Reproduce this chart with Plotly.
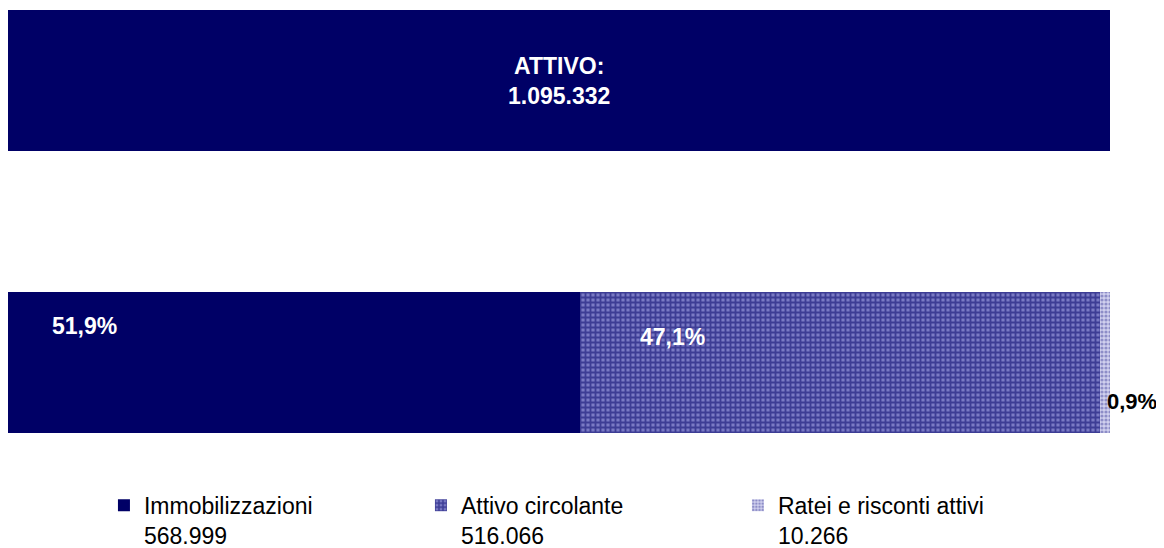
import plotly.graph_objects as go

categories = ["Immobilizzazioni", "Attivo circolante", "Ratei e risconti attivi"]
values = [568999, 516066, 10266]
value_labels = ["568.999", "516.066", "10.266"]
pct_labels = ["51,9%", "47,1%", "0,9%"]
total = 1095332
total_label = "ATTIVO:<br>1.095.332"

navy = "#000066"
font = "Liberation Sans, Arial, sans-serif"

fig = go.Figure()

# top total bar
fig.add_trace(go.Bar(x=[total], y=[1], orientation="h", width=0.5,
                     marker=dict(color=navy, line=dict(width=0)),
                     showlegend=False, hoverinfo="skip"))

patterns = [
    dict(shape=""),
    dict(shape="+", fgcolor=navy, bgcolor="#7a7ac4", size=5, solidity=0.6),
    dict(shape=".", fgcolor="#4a4aa0", bgcolor="#d0d0ee", size=4, solidity=0.5),
]
for cat, v, vl, pat in zip(categories, values, value_labels, patterns):
    fig.add_trace(go.Bar(x=[v], y=[0], orientation="h", width=0.5,
                         name=f"{cat}<br>{vl}",
                         marker=dict(color=navy, pattern=pat, line=dict(width=0))))

fig.update_layout(
    barmode="stack",
    width=1156, height=540,
    margin=dict(l=0, r=54, t=2, b=115),
    paper_bgcolor="white", plot_bgcolor="white",
    xaxis=dict(range=[0, total], visible=False),
    yaxis=dict(range=[-0.25, 1.25], visible=False),
    font=dict(family=font, size=23, color="black"),
    legend=dict(orientation="h", x=0.083, xanchor="left", xref="container",
                y=0.119, yanchor="top", yref="container",
                font=dict(size=23), entrywidth=272, itemsizing="constant",
                traceorder="normal", valign="top", bgcolor="rgba(0,0,0,0)"),
    bargap=0,
)

# annotations
fig.add_annotation(x=total / 2, y=1, xref="x", yref="y", text=f"<b>{total_label}</b>",
                   showarrow=False, font=dict(color="white", size=23, family=font))
fig.add_annotation(x=76000, y=0.13, xref="x", yref="y", text=f"<b>{pct_labels[0]}</b>",
                   showarrow=False, font=dict(color="white", size=23, family=font))
fig.add_annotation(x=660000, y=0.09, xref="x", yref="y",
                   text=f"<b>{pct_labels[1]}</b>",
                   showarrow=False, font=dict(color="white", size=23, family=font))
fig.add_annotation(x=total, y=-0.14, xref="x", yref="y", text=f"<b>{pct_labels[2]}</b>",
                   xanchor="left", xshift=-5, showarrow=False,
                   font=dict(color="black", size=22, family=font))

fig.write_html("out.html")
